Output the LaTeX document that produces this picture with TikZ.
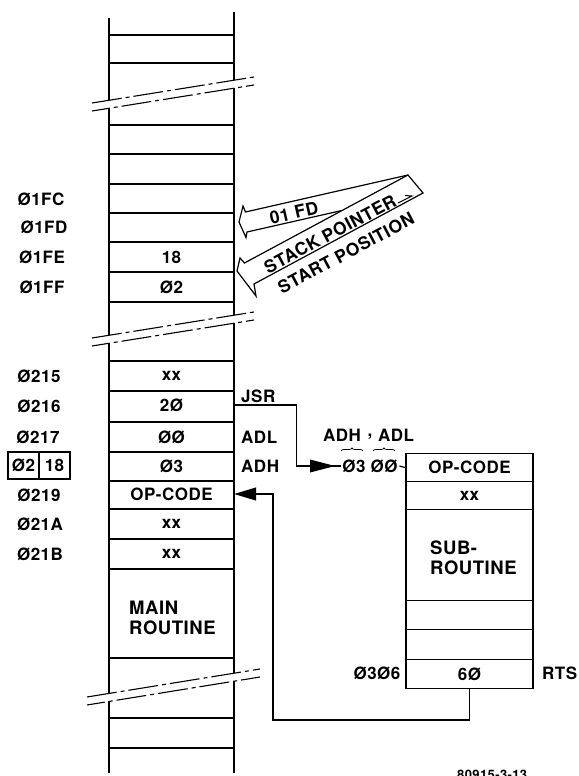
\documentclass[tikz,border=0pt]{standalone}
\usepackage{fontspec}
\setmainfont{TeX Gyre Heros}[LetterSpace=3]
\usetikzlibrary{arrows.meta,decorations.pathreplacing,calc}
\begin{document}
\begin{tikzpicture}[x=1pt,y=-1pt,
  txt/.style={font=\bfseries\fontsize{17}{19}\selectfont, inner sep=0pt},
  mcell/.style={txt, minimum width=125pt, minimum height=29pt},
  scell/.style={txt, draw, line width=1.2pt, minimum width=127pt, anchor=north, inner sep=0pt},
  big/.style={font=\bfseries\fontsize{18.5}{20.5}\selectfont, align=left, inner sep=0pt},
  sptxt/.style={font=\bfseries\fontsize{17.5}{19}\selectfont, inner sep=0pt},
  ln/.style={line width=1.2pt},
  brk/.style={line width=1.1pt, dash pattern=on 30pt off 4pt on 4pt off 4pt},
  sp/.style={line width=1.2pt, line join=miter},
  brc/.style={line width=0.8pt, decorate, decoration={brace, amplitude=3pt}},
  ]
\useasboundingbox (0,0) rectangle (578,776);

% main column sides with breaks
\draw[ln] (109,18) -- (109,100.3) (109,108.3) -- (109,335.3) (109,343.3) -- (109,693.4) (109,701.4) -- (109,773);
\draw[ln] (234,12) -- (234,80.2) (234,88.2) -- (234,315.2) (234,323.2) -- (234,673.2) (234,681.2) -- (234,773);
\foreach \yy in {35,63,125,154,184,213,242,272,302,361,391,422,452,481,509,539,569,658,718,748}
  \draw[ln] (109,\yy) -- (234,\yy);

% break marks
\draw[brk] (92,103) -- (254,77);
\draw[brk, dash phase=12pt] (92,111) -- (254,85);
\draw[brk] (92,338) -- (254,312);
\draw[brk, dash phase=12pt] (92,346) -- (254,320);
\draw[brk] (87,697) -- (260,669);
\draw[brk, dash phase=12pt] (87,705) -- (260,677);

% main column cells
\node[mcell] (c01fe) at (171.5,257) {18};
\node[mcell] (c01ff) at (171.5,287) {Ø2};
\node[mcell] (c0215) at (171.5,376) {xx};
\node[mcell] (c0216) at (171.5,405) {2Ø};
\node[mcell] (c0217) at (171.5,437) {ØØ};
\node[mcell] (c0218) at (171.5,466.5) {Ø3};
\node[mcell] (c0219) at (171.5,494) {OP-CODE};
\node[mcell] (c021a) at (171.5,524) {xx};
\node[mcell] (c021b) at (171.5,554) {xx};
\node[big, anchor=west] (mainr) at (129,618) {MAIN\\ROUTINE};

% left address labels
\node[txt] (l01fc) at (41,199) {Ø1FC};
\node[txt] (l01fd) at (44,227.5) {Ø1FD};
\node[txt] (l01fe) at (42,257) {Ø1FE};
\node[txt] (l01ff) at (42,287) {Ø1FF};
\node[txt] (l0215) at (39,376) {Ø215};
\node[txt] (l0216) at (39,406.5) {Ø216};
\node[txt] (l0217) at (38,437) {Ø217};
\node[txt, draw, line width=1.2pt, minimum width=31pt, minimum height=27pt] (b02) at (23.5,465.5) {Ø2};
\node[txt, draw, line width=1.2pt, minimum width=31pt, minimum height=27pt] (b18) at (54.5,465.5) {18};
\node[txt] (l0219) at (39,495) {Ø219};
\node[txt] (l021a) at (40,524) {Ø21A};
\node[txt] (l021b) at (40,554) {Ø21B};

% right labels
\node[txt, anchor=west] (jsr) at (241,396) {JSR};
\node[txt, anchor=west] (adl) at (241,437) {ADL};
\node[txt, anchor=west] (adh) at (241,466) {ADH};

% target address
\node[txt, inner xsep=1.5pt] (addr) at (370,466) {Ø3 ØØ};
\node[txt] (adhlbl) at (342,435) {ADH};
\node[txt] (comma) at (370,437) {,};
\node[txt] (adllbl) at (396,435) {ADL};
\draw[brc] (341,451) -- (363,451);
\draw[brc] (373,451) -- (395,451);

% subroutine
\node[scell, minimum height=28pt] (subop) at (469.5,453) {OP-CODE};
\node[scell, minimum height=28pt] (subxx) at (469.5,481) {xx};
\node[scell, minimum height=91pt] (subr) at (469.5,509) {};
\node[big, anchor=west] (subtxt) at (430,558) {SUB-\\ROUTINE};
\node[scell, minimum height=29pt] (sube1) at (469.5,600) {};
\node[scell, minimum height=30pt] (sube2) at (469.5,629) {};
\node[scell, minimum height=29pt] (sub60) at (469.5,659) {6Ø};
\node[txt] (l0306) at (377,673) {Ø3Ø6};
\node[txt, anchor=west] (rts) at (542,673) {RTS};

% JSR connector
\draw[ln] (c0216.east) -- ++(62,0) |- (addr.west);
\fill (310,459.5) -- (335,466) -- (310,472.5) -- cycle;
\draw[ln] (addr.east) -- (subop.west);

% return connector
\coordinate (rt) at (273,720);
\draw[ln, -{Triangle[length=22pt,width=13pt]}] (sub60.south) |- (rt) |- (c0219.east);

% stack pointer arrows
\draw[sp] (341,210.7) -- (247,232) -- (246,237.5) -- (239,222) -- (243,206) -- (245.5,212) -- (408,175);
\draw[sp] (408,175) -- (423,193) -- (254,284) -- (256,296) -- (237,271) -- (240,258) -- (244.5,263) -- cycle;
\draw[line width=1pt] (398,203) -- (412,196) -- (405,195.5);
\node[sptxt, rotate=12.8] (fd) at (294,213) {01 FD};
\node[sptxt, rotate=28] (spt) at (330,234) {STACK POINTER};
\node[sptxt, rotate=28] (sps) at (346,253) {START POSITION};

% figure number
\node[font=\bfseries\fontsize{13}{14}\selectfont, inner sep=0pt, anchor=base west] (fig) at (457,779) {80915-3-13};
\end{tikzpicture}
\end{document}
